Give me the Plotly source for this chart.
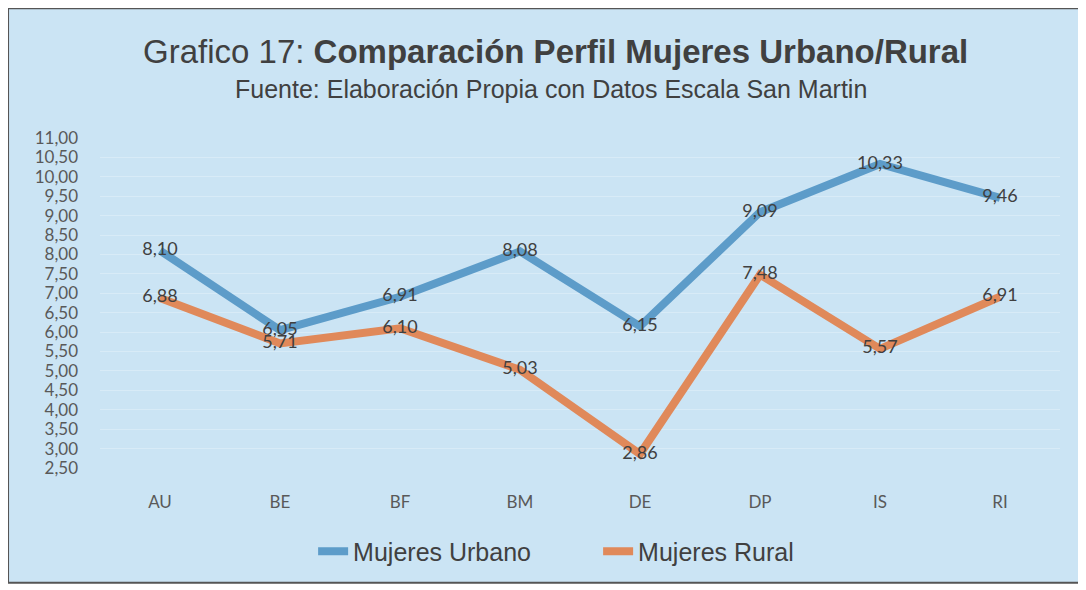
import plotly.graph_objects as go

# datos
categorias = ['AU', 'BE', 'BF', 'BM', 'DE', 'DP', 'IS', 'RI']
mujeres_urbano = [8.10, 6.05, 6.91, 8.08, 6.15, 9.09, 10.33, 9.46]
mujeres_rural = [6.88, 5.71, 6.10, 5.03, 2.86, 7.48, 5.57, 6.91]
y_ticks = [2.5 + 0.5 * i for i in range(18)]

azul = '#5d9cc9'
naranja = '#e0895a'
gris = '#404040'

fig = go.Figure()
fig.add_trace(go.Scatter(
    x=categorias, y=mujeres_urbano, name='Mujeres Urbano',
    mode='lines+text', line=dict(color=azul, width=8),
    texttemplate='%{y:.2f}', textposition='middle center',
    textfont=dict(family='Lato', size=18, color=gris)))
fig.add_trace(go.Scatter(
    x=categorias, y=mujeres_rural, name='Mujeres Rural',
    mode='lines+text', line=dict(color=naranja, width=8),
    texttemplate='%{y:.2f}', textposition='middle center',
    textfont=dict(family='Lato', size=18, color=gris)))

# la pagina tiene 8px de margen en el body, por eso todo va corrido
fig.update_layout(
    width=1078, height=582,
    margin=dict(l=92, r=26, t=130, b=122),
    separators=',.',
    paper_bgcolor='white',
    plot_bgcolor='rgba(0,0,0,0)',
    showlegend=True,
    legend=dict(orientation='h', x=0.222, xanchor='left', y=-0.183, yanchor='top',
                bgcolor='rgba(0,0,0,0)',
                font=dict(family='Liberation Sans', size=25, color=gris),
                entrywidth=240, entrywidthmode='pixels',
                tracegroupgap=0),
    shapes=[dict(type='rect', xref='paper', yref='paper',
                 x0=-0.0958, x1=1.0198, y0=-0.348, y1=1.3935,
                 fillcolor='#cbe4f4', line=dict(color='#555555', width=2),
                 layer='below')],
    annotations=[
        dict(text='Grafico 17: <b>Comparación Perfil Mujeres Urbano/Rural</b>',
             xref='paper', yref='paper', x=0.474, y=1.261, xanchor='center',
             yanchor='middle', showarrow=False,
             font=dict(family='Liberation Sans', size=33, color=gris)),
        dict(text='Fuente: Elaboración Propia con Datos Escala San Martin',
             xref='paper', yref='paper', x=0.470, y=1.148, xanchor='center',
             yanchor='middle', showarrow=False,
             font=dict(family='Liberation Sans', size=25, color=gris)),
    ],
)

fig.update_xaxes(type='category', range=[-0.5, 7.5], showgrid=False, zeroline=False,
                 showline=False, ticks='', ticklabelstandoff=22,
                 tickfont=dict(family='Lato', size=17, color='#595959'))
fig.update_yaxes(range=[2.5, 11], tickvals=y_ticks, tickformat='.2f',
                 showgrid=True, gridcolor='rgba(255,255,255,0.25)', gridwidth=1,
                 zeroline=False, showline=False, ticks='', ticklabelstandoff=21,
                 tickfont=dict(family='Lato', size=17, color='#595959'))

fig.write_html('out.html')
